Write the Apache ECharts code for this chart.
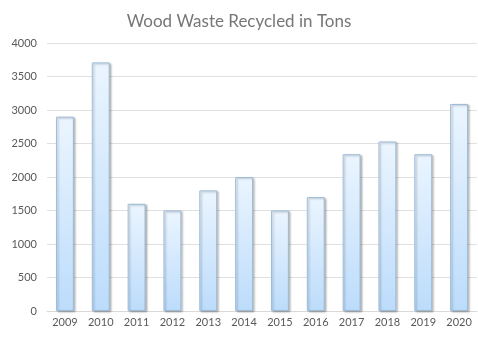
<!DOCTYPE html>
<html>
<head>
<meta charset="utf-8">
<script src="https://cdn.jsdelivr.net/npm/echarts@6/dist/echarts.min.js"></script>
<style>
  html, body { margin: 0; padding: 0; background: #fff; }
  #chart { width: 478px; height: 339px; }
</style>
</head>
<body>
<div id="chart"></div>
<script>
// Wood waste recycled per year, in tons
const years = ['2009', '2010', '2011', '2012', '2013', '2014', '2015', '2016', '2017', '2018', '2019', '2020'];
const tons = [2900, 3710, 1600, 1500, 1800, 2000, 1500, 1700, 2340, 2530, 2340, 3090];
const yTicks = [0, 500, 1000, 1500, 2000, 2500, 3000, 3500, 4000];

const chart = echarts.init(document.getElementById('chart'), null, { renderer: 'canvas' });
const font = 'Lato, "Open Sans", sans-serif';

chart.setOption({
  animation: false,
  title: {
    text: 'Wood Waste Recycled in Tons',
    left: 'center',
    top: 8,
    textStyle: { fontFamily: font, fontSize: 17, fontWeight: 'normal', color: '#767676' }
  },
  grid: { left: 47, right: 1, top: 43, bottom: 28 },
  xAxis: {
    type: 'category',
    data: years,
    axisLine: { lineStyle: { color: '#d9d9d9', width: 1 } },
    axisTick: { show: false },
    axisLabel: { fontFamily: font, fontSize: 11, color: '#595959', margin: 6 }
  },
  yAxis: {
    type: 'value',
    min: yTicks[0],
    max: yTicks[yTicks.length - 1],
    interval: 500,
    axisLine: { show: false },
    axisTick: { show: false },
    splitLine: { lineStyle: { color: '#e0e0e0', width: 1 } },
    axisLabel: {
      fontFamily: font, fontSize: 11, color: '#595959', margin: 10,
      formatter: v => String(v)
    }
  },
  series: [{
    type: 'bar',
    data: tons,
    barWidth: '50%',
    itemStyle: {
      color: new echarts.graphic.LinearGradient(0, 0, 0, 1, [
        { offset: 0, color: '#ebf5ff' },
        { offset: 1, color: '#bcdcfb' }
      ]),
      borderColor: '#9dbcd8',
      borderWidth: 1,
      shadowColor: 'rgba(0,0,0,0.25)',
      shadowBlur: 2,
      shadowOffsetX: 1.5,
      shadowOffsetY: 1
    }
  }]
});
</script>
</body>
</html>
